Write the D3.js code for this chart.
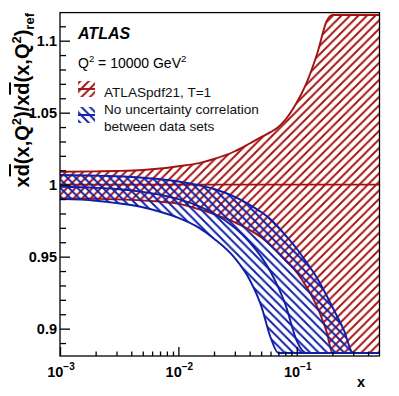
<!DOCTYPE html>
<html>
<head>
<meta charset="utf-8">
<script src="https://cdn.jsdelivr.net/npm/d3@7"></script>
<style>
body { margin: 0; background: #fff; }
svg { display: block; font-family: "Liberation Sans", Arial, Helvetica, sans-serif; }
</style>
</head>
<body>
<div id="chart"></div>
<script>
// x grid shared by all curves
const xGrid = [0.001, 0.002, 0.003, 0.005, 0.007, 0.01, 0.015, 0.02, 0.03, 0.04, 0.05, 0.06, 0.07, 0.08, 0.1, 0.12, 0.15, 0.18, 0.2, 0.25, 0.3, 0.4, 0.5];

// ATLASpdf21, T=1 (ratio to itself)
const redUp  = [1.0090, 1.0092, 1.0095, 1.0102, 1.0112, 1.0128, 1.0150, 1.0178, 1.0232, 1.0286, 1.0330, 1.0365, 1.0400, 1.0450, 1.0570, 1.0700, 1.0920, 1.1140, 1.1300, 1.17, 1.21, 1.28, 1.35];
const redMid = [1, 1, 1, 1, 1, 1, 1, 1, 1, 1, 1, 1, 1, 1, 1, 1, 1, 1, 1, 1, 1, 1, 1];
const redLo  = [0.9905, 0.9902, 0.9898, 0.9890, 0.9882, 0.9868, 0.9828, 0.9795, 0.9738, 0.9685, 0.9634, 0.9578, 0.9525, 0.9475, 0.9390, 0.9295, 0.9145, 0.8970, 0.8800, 0.84, 0.80, 0.73, 0.66];

// No uncertainty correlation between data sets
const blueUp  = [1.0067, 1.0063, 1.0058, 1.0048, 1.0038, 1.0022, 0.9995, 0.9970, 0.9915, 0.9860, 0.9810, 0.9760, 0.9705, 0.9650, 0.9555, 0.9465, 0.9345, 0.9225, 0.9150, 0.8990, 0.8830, 0.85, 0.82];
const blueMid = [0.9985, 0.9978, 0.9970, 0.9950, 0.9930, 0.9900, 0.9850, 0.9800, 0.9700, 0.9600, 0.9500, 0.9395, 0.9285, 0.9170, 0.8915, 0.865, 0.82, 0.78, 0.75, 0.70, 0.65, 0.55, 0.45];
const blueLo  = [0.9901, 0.9888, 0.9872, 0.9843, 0.9812, 0.9770, 0.9700, 0.9625, 0.9490, 0.9340, 0.9160, 0.8940, 0.8690, 0.84, 0.79, 0.74, 0.67, 0.60, 0.55, 0.45, 0.35, 0.2, 0.1];

// axis ticks
const yMajor = [0.9, 0.95, 1, 1.05, 1.1];
const yLabels = ["0.9", "0.95", "1", "1.05", "1.1"];
const yMinor = [0.89, 0.91, 0.92, 0.93, 0.94, 0.96, 0.97, 0.98, 0.99, 1.01, 1.02, 1.03, 1.04, 1.06, 1.07, 1.08, 1.09, 1.11];
const xMajor = [0.001, 0.01, 0.1];
const xExp = ["\u22123", "\u22122", "\u22121"];
const xMinor = [0.002, 0.003, 0.004, 0.005, 0.006, 0.007, 0.008, 0.009, 0.02, 0.03, 0.04, 0.05, 0.06, 0.07, 0.08, 0.09, 0.2, 0.3, 0.4];

const legendLabels = ["ATLASpdf21, T=1", "No uncertainty correlation", "between data sets"];

const RED = "#a51111", BLUE = "#0f1fa8";

const W = 399, H = 396;
const svg = d3.select("#chart").append("svg").attr("width", W).attr("height", H);

const x = d3.scaleLog().domain([1e-3, 0.5]).range([60, 379.5]);
const y = d3.scaleLinear().domain([0.881, 1.1195]).range([356, 12.6]);
// ROOT clips bands slightly inside the frame
const yc = v => Math.max(15, Math.min(353, y(v)));

// hatch patterns
const defs = svg.append("defs");
defs.append("pattern").attr("id", "hatchRed").attr("patternUnits", "userSpaceOnUse")
    .attr("width", 8.5).attr("height", 8.5)
  .append("path").attr("d", "M-2,2 L2,-2 M0,8.5 L8.5,0 M6.5,10.5 L10.5,6.5")
    .attr("stroke", RED).attr("stroke-width", 1.9);
defs.append("pattern").attr("id", "hatchBlue").attr("patternUnits", "userSpaceOnUse")
    .attr("width", 8.5).attr("height", 8.5)
  .append("path").attr("d", "M-2,6.5 L2,10.5 M0,0 L8.5,8.5 M6.5,-2 L10.5,2")
    .attr("stroke", BLUE).attr("stroke-width", 1.9);

const area = (up, lo) => d3.area()
    .x((d, i) => x(xGrid[i]))
    .y0((d, i) => yc(lo[i]))
    .y1((d, i) => yc(up[i]))
    .curve(d3.curveMonotoneX)(xGrid);
const line = vals => d3.line()
    .x((d, i) => x(xGrid[i]))
    .y((d, i) => yc(vals[i]))
    .curve(d3.curveMonotoneX)(xGrid);

const plot = svg.append("g");

// red band
plot.append("path").attr("d", area(redUp, redLo)).attr("fill", "url(#hatchRed)");
[redUp, redLo, redMid].forEach(v => {
  plot.append("path").attr("d", line(v)).attr("fill", "none")
    .attr("stroke", RED).attr("stroke-width", 1.9);
});

// blue band
plot.append("path").attr("d", area(blueUp, blueLo)).attr("fill", "url(#hatchBlue)");
[blueUp, blueLo, blueMid].forEach(v => {
  plot.append("path").attr("d", line(v)).attr("fill", "none")
    .attr("stroke", BLUE).attr("stroke-width", 1.9);
});

// frame
svg.append("rect").attr("x", 60).attr("y", 12.6).attr("width", 319.5).attr("height", 343.4)
  .attr("fill", "none").attr("stroke", "#000").attr("stroke-width", 1.3);

// y axis
const yAx = svg.append("g").attr("transform", "translate(60,0)")
  .call(d3.axisLeft(y).tickValues(yMajor).tickSize(-10).tickPadding(3)
    .tickFormat((d, i) => yLabels[i]));
yAx.select(".domain").remove();
yAx.selectAll("line").attr("stroke", "#000").attr("stroke-width", 1.3);
yAx.selectAll("text").attr("font-size", 14.5).attr("font-weight", "bold")
  .attr("font-family", "Liberation Sans, Arial, sans-serif").attr("fill", "#000");

const yAxm = svg.append("g").attr("transform", "translate(60,0)")
  .call(d3.axisLeft(y).tickValues(yMinor).tickSize(-6).tickFormat(""));
yAxm.select(".domain").remove();
yAxm.selectAll("line").attr("stroke", "#000").attr("stroke-width", 1.3);

// x axis
const xAx = svg.append("g").attr("transform", "translate(0,356)")
  .call(d3.axisBottom(x).tickValues(xMajor).tickSize(-9).tickFormat(""));
xAx.select(".domain").remove();
xAx.selectAll("line").attr("stroke", "#000").attr("stroke-width", 1.3);
const xAxm = svg.append("g").attr("transform", "translate(0,356)")
  .call(d3.axisBottom(x).tickValues(xMinor).tickSize(-4.5).tickFormat(""));
xAxm.select(".domain").remove();
xAxm.selectAll("line").attr("stroke", "#000").attr("stroke-width", 1.3);

xMajor.forEach((v, i) => {
  const t = svg.append("text").attr("x", x(v) + 1).attr("y", 377)
    .attr("text-anchor", "middle").attr("font-size", 14.5).attr("font-weight", "bold");
  t.append("tspan").text("10");
  t.append("tspan").attr("dy", -7).attr("font-size", 10).text(xExp[i]);
});

svg.append("text").attr("x", 361).attr("y", 387).attr("text-anchor", "middle")
  .attr("font-size", 14.5).attr("font-weight", "bold").text("x");

// y title
const yt = svg.append("text").attr("transform", "translate(29,13) rotate(-90)")
  .attr("text-anchor", "end").attr("font-size", 20).attr("font-weight", "bold");
yt.append("tspan").text("x");
yt.append("tspan").style("text-decoration", "overline").text("d");
yt.append("tspan").text("(x,Q");
yt.append("tspan").attr("dy", -8).attr("font-size", 13).text("2");
yt.append("tspan").attr("dy", 8).text(")/x");
yt.append("tspan").style("text-decoration", "overline").text("d");
yt.append("tspan").text("(x,Q");
yt.append("tspan").attr("dy", -8).attr("font-size", 13).text("2");
yt.append("tspan").attr("dy", 8).text(")");
yt.append("tspan").attr("dy", 5).attr("font-size", 13).text("ref");

// labels
svg.append("text").attr("x", 78).attr("y", 38.5).attr("font-size", 16)
  .attr("font-weight", "bold").attr("font-style", "italic").text("ATLAS");
const q = svg.append("text").attr("x", 78).attr("y", 68).attr("font-size", 14);
q.append("tspan").text("Q");
q.append("tspan").attr("dy", -6).attr("font-size", 9.5).text("2");
q.append("tspan").attr("dy", 6).text(" = 10000 GeV");
q.append("tspan").attr("dy", -6).attr("font-size", 9.5).text("2");

// legend
const leg = svg.append("g");
leg.append("rect").attr("x", 78).attr("y", 81).attr("width", 17).attr("height", 16)
  .attr("fill", "url(#hatchRed)");
leg.append("line").attr("x1", 78).attr("x2", 95).attr("y1", 89).attr("y2", 89)
  .attr("stroke", RED).attr("stroke-width", 1.9);
leg.append("rect").attr("x", 78).attr("y", 107).attr("width", 17).attr("height", 16)
  .attr("fill", "url(#hatchBlue)");
leg.append("line").attr("x1", 78).attr("x2", 95).attr("y1", 115).attr("y2", 115)
  .attr("stroke", BLUE).attr("stroke-width", 1.9);
[96.5, 114, 130.5].forEach((yy, i) => {
  leg.append("text").attr("x", 104).attr("y", yy).attr("font-size", 13.6)
    .attr("fill", "#111").text(legendLabels[i]);
});
</script>
</body>
</html>
